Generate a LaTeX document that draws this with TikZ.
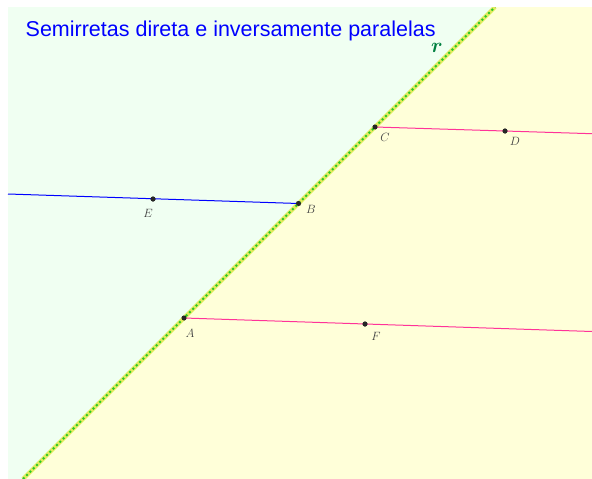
\documentclass[tikz,border=0pt]{standalone}
\usepackage{fontspec}
\usepackage{bm}
\setsansfont{Liberation Sans}
\usetikzlibrary{positioning, calc}

\definecolor{panelgreen}{RGB}{240,255,242}
\definecolor{panelyellow}{RGB}{255,255,217}
\definecolor{rayblue}{RGB}{0,0,255}
\definecolor{raypink}{RGB}{255,51,153}
\definecolor{rgreen}{RGB}{0,128,64}
\definecolor{ryellow}{RGB}{225,235,95}
\definecolor{rdash}{RGB}{40,200,40}

\begin{document}
\begin{tikzpicture}[x=1pt, y=-1pt,
  pnt/.style={circle, fill=black!85, inner sep=0pt, minimum size=5pt},
  lbl/.style={font=\fontsize{12}{14}\selectfont, text=black!75, inner sep=1pt},
  rlbl/.style={font=\fontsize{20}{22}\selectfont, text=rgreen, inner sep=0pt},
  ttl/.style={font=\sffamily\fontsize{21.5}{24}\selectfont, text=rayblue, inner sep=0pt, anchor=base west},
  ray/.style={line width=1pt},
  rback/.style={line width=4pt, ryellow},
  rfront/.style={line width=2pt, rdash, dash pattern=on 2pt off 2.7pt}
]
  \useasboundingbox (0,0) rectangle (592,479);
  \fill[panelgreen] (8,7) rectangle (592,479);
  \fill[panelyellow] (495,7) -- (592,7) -- (592,479) -- (23,479) -- cycle;

  % points
  \node[pnt] (A) at (184,318) {};
  \node[pnt] (B) at (298.5,203.5) {};
  \node[pnt] (C) at (375,127) {};
  \node[pnt] (D) at (505,131) {};
  \node[pnt] (E) at (153,199) {};
  \node[pnt] (F) at (365,324) {};

  \coordinate (rbot) at (23,479);
  \coordinate (rtop) at (495,7);
  \coordinate (Eend) at (8,194);
  \coordinate (Dend) at (592,133.7);
  \coordinate (Fend) at (592,331.5);

  % line r
  \begin{scope}
    \clip (8,7) rectangle (592,479);
    \draw[rback] (rbot) -- (rtop);
    \draw[rfront] (rbot) -- (rtop);
  \end{scope}

  % rays
  \draw[ray, rayblue] (B.center) -- (Eend);
  \draw[ray, raypink] (C.center) -- (Dend);
  \draw[ray, raypink] (A.center) -- (Fend);

  \foreach \p in {A,B,C,D,E,F}
    \node[pnt] at (\p) {};

  \node[lbl] (labA) at (190,333) {$A$};
  \node[lbl] (labB) at (311,209) {$B$};
  \node[lbl] (labC) at (385,137) {$C$};
  \node[lbl] (labD) at (515,141) {$D$};
  \node[lbl] (labE) at (148,213) {$E$};
  \node[lbl] (labF) at (376,336) {$F$};
  \node[rlbl] (labr) at (437,48) {$\bm{r}$};

  \node[ttl] (title) at (25.5,36.5) {Semirretas direta e inversamente paralelas};
\end{tikzpicture}
\end{document}
